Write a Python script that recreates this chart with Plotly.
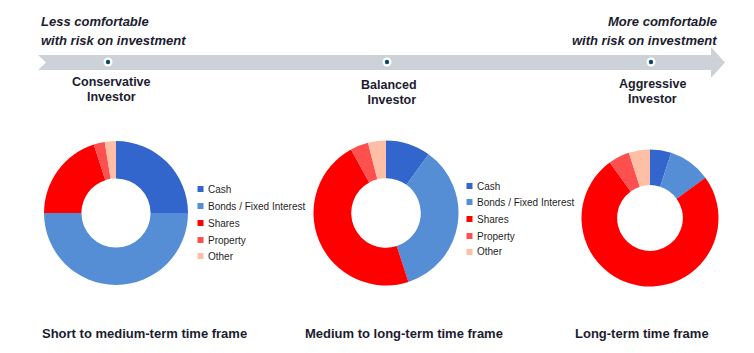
import plotly.graph_objects as go

W, H = 754, 353

categories = ["Cash", "Bonds / Fixed Interest", "Shares", "Property", "Other"]
colors = ["#3366cc", "#558ed5", "#ff0000", "#ff5050", "#ffbfa6"]
conservative = [25, 50, 20, 2.5, 2.5]
balanced = [10, 35, 47, 4, 4]
aggressive = [5, 10, 75, 5, 5]

investor_names = [["Conservative", "Investor"], ["Balanced", " Investor"], ["Aggressive", "Investor"]]
time_frames = ["Short to medium-term time frame", "Medium to long-term time frame", "Long-term time frame"]
left_note = ["Less comfortable", "with risk on investment"]
right_note = ["More comfortable", "with risk on investment"]

TXT = "#1c1c30"
FONT = "Liberation Sans, Arial, sans-serif"


def fx(x):
    return x / W


def fy(y):
    return 1 - y / H


def dom(cx, cy, r):
    return dict(x=[fx(cx - r), fx(cx + r)], y=[fy(cy + r), fy(cy - r)])


fig = go.Figure()
pies = [(conservative, (116, 213, 72)), (balanced, (386, 213, 72.5)), (aggressive, (650, 218, 68.5))]
for vals, (cx, cy, r) in pies:
    fig.add_trace(go.Pie(
        labels=categories, values=vals, hole=0.48, sort=False, direction="clockwise",
        rotation=0, textinfo="none", showlegend=False,
        marker=dict(colors=colors, line=dict(width=0)),
        domain=dom(cx, cy, r),
    ))

shapes = []
# arrow band
pts = [(38, 55), (711, 55), (711, 47), (725, 62.5), (711, 78), (711, 70), (38, 70), (46, 62.5)]
path = "M " + " L ".join(f"{fx(x):.5f},{fy(y):.5f}" for x, y in pts) + " Z"
shapes.append(dict(type="path", path=path, xref="paper", yref="paper",
                   fillcolor="#cdd1d8", line=dict(width=0), layer="below"))
for dx in [108, 387, 651]:
    for rr, col in [(4.5, "white"), (2.2, "#0d4a72")]:
        shapes.append(dict(type="circle", xref="paper", yref="paper",
                           x0=fx(dx - rr), x1=fx(dx + rr), y0=fy(62 + rr), y1=fy(62 - rr),
                           fillcolor=col, line=dict(width=0)))

annotations = []


def add_text(text, x, y, size=13, bold=True, italic=False, xanchor="center", color=TXT):
    t = text
    if bold:
        t = f"<b>{t}</b>"
    if italic:
        t = f"<i>{t}</i>"
    annotations.append(dict(text=t, x=fx(x), y=fy(y), xref="paper", yref="paper",
                            xanchor=xanchor, yanchor="middle", showarrow=False,
                            font=dict(family=FONT, size=size, color=color)))


add_text(left_note[0], 39, 21.5, italic=True, xanchor="left")
add_text(left_note[1], 39, 40, italic=True, xanchor="left")
add_text(right_note[0], 719, 21.5, italic=True, xanchor="right")
add_text(right_note[1], 719, 40, italic=True, xanchor="right")

name_pos = [((111.5, 81.5), (111.5, 96.5)), ((389, 84.5), (390, 99.5)), ((652.5, 83.5), (652.5, 98.5))]
for names, ((x1, y1), (x2, y2)) in zip(investor_names, name_pos):
    add_text(names[0], x1, y1, size=12.5)
    add_text(names[1], x2, y2, size=12.5)

for label, x in zip(time_frames, [40, 303, 573]):
    add_text(label, x, 333, xanchor="left")

# legends for first two donuts
legend_specs = [(200.5, [189, 206, 223, 240, 256]), (469.5, [186, 202, 219, 236, 252])]
for mx, ys in legend_specs:
    for cat, col, y in zip(categories, colors, ys):
        shapes.append(dict(type="rect", xref="paper", yref="paper",
                           x0=fx(mx - 3), x1=fx(mx + 3), y0=fy(y + 3), y1=fy(y - 3),
                           fillcolor=col, line=dict(width=0)))
        add_text(cat, mx + 5.5, y, size=10, bold=False, xanchor="left", color="#1f1f1f")

fig.update_layout(
    width=W, height=H, margin=dict(l=0, r=0, t=0, b=0),
    paper_bgcolor="white", plot_bgcolor="white",
    shapes=shapes, annotations=annotations, showlegend=False,
)

fig.write_html("out.html")
